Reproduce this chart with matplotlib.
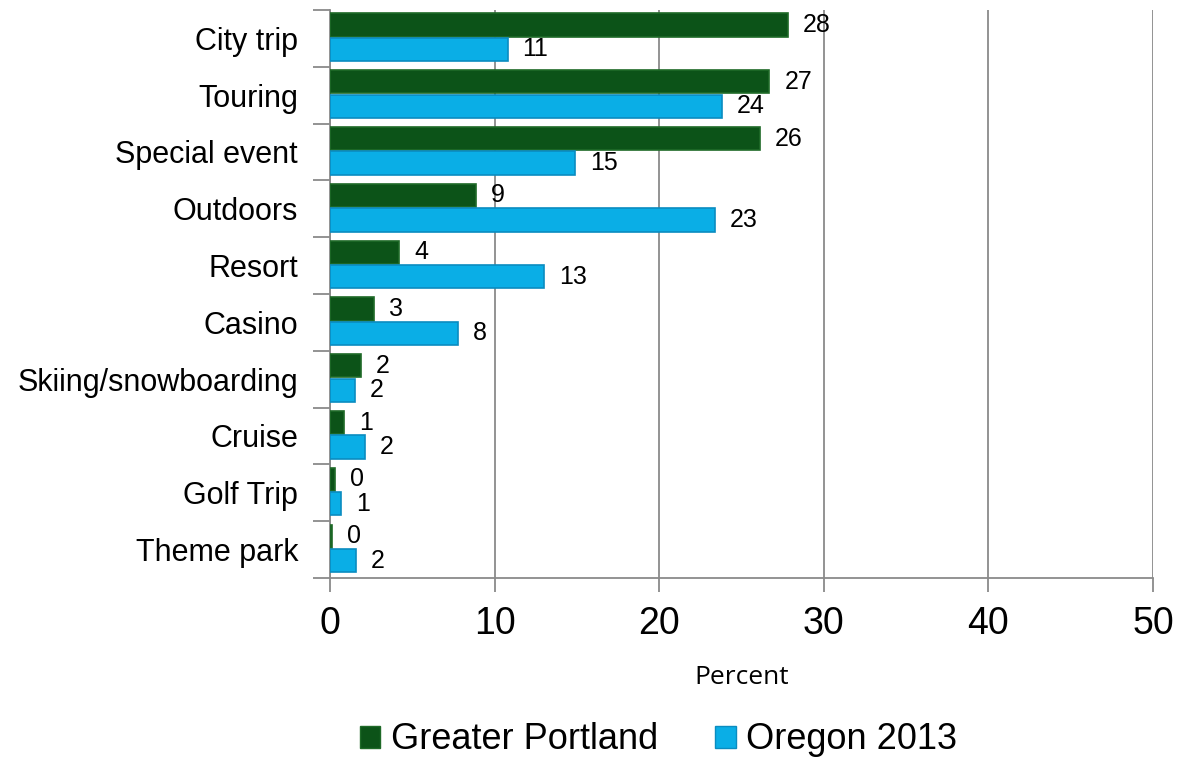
import matplotlib
matplotlib.use("Agg")
import matplotlib.pyplot as plt
from matplotlib.patches import Patch
from matplotlib.ticker import FixedLocator
import numpy as np

categories = ["City trip", "Touring", "Special event", "Outdoors", "Resort",
              "Casino", "Skiing/snowboarding", "Cruise", "Golf Trip", "Theme park"]
greater_portland = [27.8, 26.7, 26.1, 8.9, 4.2, 2.7, 1.9, 0.85, 0.3, 0.15]
oregon_2013 = [10.8, 23.8, 14.9, 23.4, 13.0, 7.8, 1.5, 2.1, 0.7, 1.6]
series_names = ["Greater Portland", "Oregon 2013"]
x_ticks = [0, 10, 20, 30, 40, 50]

green = "#0c5318"
green_edge = "#1f6a28"
blue = "#0aaee6"
blue_edge = "#0a8cc0"
grid_col = "#8a8a8a"

plt.rcParams["font.family"] = ["Liberation Sans", "DejaVu Sans"]

fig = plt.figure(figsize=(11.78, 7.62), dpi=100)
ax = fig.add_axes([0.2801, 0.2415, 0.6987, 0.7454])

y = np.arange(len(categories))
h = 0.41
ax.barh(y - 0.235, greater_portland, height=h, color=green,
        edgecolor=green_edge, linewidth=1.2, zorder=3)
ax.barh(y + 0.195, oregon_2013, height=h, color=blue,
        edgecolor=blue_edge, linewidth=1.2, zorder=3)

for yi, v in zip(y, greater_portland):
    ax.text(v + 0.9, yi - 0.235, f"{v:.0f}", va="center", ha="left",
            fontsize=18, color="black", zorder=4)
for yi, v in zip(y, oregon_2013):
    ax.text(v + 0.9, yi + 0.195, f"{v:.0f}", va="center", ha="left",
            fontsize=18, color="black", zorder=4)

ax.set_xlim(0, 50)
ax.set_ylim(len(categories) - 0.5, -0.5)
ax.xaxis.set_major_locator(FixedLocator(x_ticks))
ax.xaxis.grid(True, color=grid_col, linewidth=1.3, zorder=0)
ax.set_axisbelow(True)

ax.set_yticks(y)
ax.set_yticklabels(categories, fontsize=22)
ax.yaxis.set_minor_locator(FixedLocator(np.arange(len(categories) + 1) - 0.5))
ax.tick_params(axis="y", which="major", length=0, pad=23)
ax.tick_params(axis="y", which="minor", length=12, width=1.3, color=grid_col)
ax.tick_params(axis="x", which="major", length=10, width=1.3, color=grid_col,
               labelsize=27, pad=10)

for side in ["top", "right"]:
    ax.spines[side].set_visible(False)
for side in ["left", "bottom"]:
    ax.spines[side].set_color(grid_col)
    ax.spines[side].set_linewidth(1.3)

fig.text(0.6295, 1 - 678 / 762, "Percent", ha="center", va="center",
         fontsize=19, family=["Open Sans", "DejaVu Sans"])

handles = [Patch(facecolor=green, edgecolor=green_edge, label=series_names[0]),
           Patch(facecolor=blue, edgecolor=blue_edge, label=series_names[1])]
fig.legend(handles=handles, loc="center", bbox_to_anchor=(0.559, 0.029),
           ncol=2, frameon=False, fontsize=26, handlelength=0.56,
           handleheight=0.56, handletextpad=0.28, columnspacing=1.6)

fig.savefig("out.png", dpi=100)
